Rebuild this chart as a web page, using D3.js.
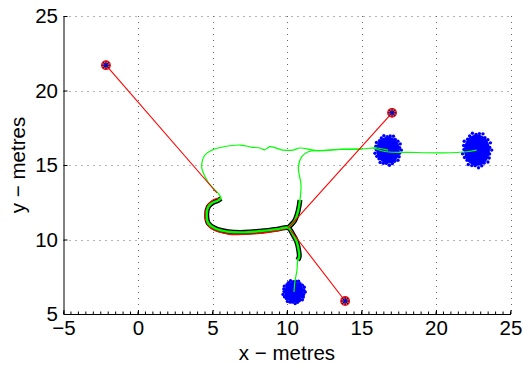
<!DOCTYPE html>
<html><head><meta charset="utf-8">
<script src="https://cdn.jsdelivr.net/npm/d3@7"></script>
<style>body{margin:0;background:#fff}svg{display:block}text{font-family:"Liberation Sans",Arial,sans-serif}</style>
</head><body><svg id="c" width="523" height="365"></svg>
<script>
// ---- data (metres) ----
const xTicks = [-5, 0, 5, 10, 15, 20, 25];
const yTicks = [5, 10, 15, 20, 25];
const xTickLabels = ["\u22125", "0", "5", "10", "15", "20", "25"];
const yTickLabels = ["5", "10", "15", "20", "25"];

// landmarks
const lmX = [-2.15, 17.05, 13.9];
const lmY = [21.7, 18.5, 5.87];
// observation ray end points (on trajectory)
const obsX = [5.30, 10.08, 10.23];
const obsY = [13.12, 10.77, 10.64];

// particle clouds: centre and spread
const cloudX = [16.78, 22.75, 10.47];
const cloudY = [16.0, 16.0, 6.48];
const cloudRx = [0.88, 0.97, 0.74];
const cloudRy = [1.0, 1.17, 0.77];

// main green trajectory
const pathX = [10.47,10.53,10.67,10.72,10.82,10.80,10.65,10.42,10.08,9.41,8.30,7.18,6.06,5.17,4.72,4.61,4.72,5.03,5.37,5.57,
  5.43,5.10,4.70,4.36,4.27,4.49,4.96,5.37,6.85,7.6,8.19,8.5,8.86,9.73,10.40,10.87,12.01,13.76,14.90,16.04,16.78];
const pathY = [6.48,7.15,7.95,8.62,8.84,9.18,9.85,10.30,10.79,10.70,10.57,10.48,10.52,10.75,11.09,11.64,12.20,12.48,12.62,12.75,
  13.05,13.39,13.86,14.53,14.88,15.67,16.0,16.14,16.34,16.2,16.14,16.02,16.23,16.00,16.00,16.14,15.96,16.07,16.07,16.14,16.0];
// second branch from junction going up
const branchX = [10.08,10.54,10.76,10.87,10.94,10.76,10.99,11.43,12.21,13.56,15.0];
const branchY = [10.79,11.31,11.98,12.65,13.66,14.86,15.56,15.89,15.97,16.04,16.07];
// link between the two upper clouds
const linkX = [15.77,16.69,18.25,20.46,22.07,22.73];
const linkY = [16.14,15.89,15.85,15.82,15.89,16.0];
// thick (black) bundle sections
const bundleX = [10.72,10.82,10.80,10.65,10.42,10.08,9.41,8.30,7.18,6.06,5.17,4.72,4.61,4.72,5.03,5.37,5.57];
const bundleY = [8.62,8.84,9.18,9.85,10.30,10.79,10.70,10.57,10.48,10.52,10.75,11.09,11.64,12.20,12.48,12.62,12.75];
const bundle2X = [10.08,10.54,10.76,10.87];
const bundle2Y = [10.79,11.31,11.98,12.65];
// red estimated path
const estX = [5.57,5.03,4.63,4.50,4.70,4.96,6.04,7.18,8.99,10.06];
const estY = [12.79,12.65,12.18,11.44,10.97,10.70,10.37,10.35,10.52,10.77];

// ---- layout ----
const L = 63.5, R = 510.5, T = 16, B = 314;
const x = d3.scaleLinear().domain([-5, 25]).range([L, R]);
const y = d3.scaleLinear().domain([5, 25]).range([B, T]);
const svg = d3.select("#c");
const FS = "20.5px";

// grid
const g = svg.append("g");
g.selectAll(".gx").data(xTicks.slice(1)).join("line")
  .attr("x1", d => Math.round(x(d)) + 0.5).attr("x2", d => Math.round(x(d)) + 0.5)
  .attr("y1", T).attr("y2", B)
  .attr("stroke", "#666").attr("stroke-width", 1).attr("stroke-dasharray", "1,5");
g.selectAll(".gy").data(yTicks.slice(1)).join("line")
  .attr("y1", d => Math.round(y(d)) + 0.5).attr("y2", d => Math.round(y(d)) + 0.5)
  .attr("x1", L).attr("x2", R)
  .attr("stroke", "#666").attr("stroke-width", 1).attr("stroke-dasharray", "1,5");

// clouds
const clouds = d3.range(cloudX.length).map(i => ({cx: cloudX[i], cy: cloudY[i], rx: cloudRx[i], ry: cloudRy[i]}));
const cg = svg.append("g").attr("fill", "#0000ff");
clouds.forEach(c => {
  const rx = x(c.cx + c.rx) - x(c.cx), ry = y(c.cy) - y(c.cy + c.ry);
  cg.append("ellipse").attr("cx", x(c.cx)).attr("cy", y(c.cy)).attr("rx", rx * 0.9).attr("ry", ry * 0.9);
  d3.range(0, 360, 14).forEach((a, k) => {
    const f = k % 3 === 0 ? 1.02 : (k % 3 === 1 ? 0.9 : 0.96);
    const t = a * Math.PI / 180;
    cg.append("circle").attr("cx", x(c.cx) + rx * f * Math.cos(t)).attr("cy", y(c.cy) + ry * f * Math.sin(t)).attr("r", 1.7);
  });
});

const line = d3.line().x(d => x(d[0])).y(d => y(d[1])).curve(d3.curveCatmullRom.alpha(0.5));
const pts = (a, b) => a.map((v, i) => [v, b[i]]);

// thick black bundles
[pts(bundleX, bundleY), pts(bundle2X, bundle2Y)].forEach(p => {
  svg.append("path").attr("d", line(p)).attr("fill", "none").attr("stroke", "#000")
    .attr("stroke-width", 5).attr("stroke-linejoin", "round").attr("stroke-linecap", "butt");
});
// red estimated path
svg.append("path").attr("d", line(pts(estX, estY))).attr("fill", "none").attr("stroke", "#ff0000").attr("stroke-width", 1.3);
// green inside bundles
[pts(bundleX, bundleY), pts(bundle2X, bundle2Y)].forEach(p => {
  svg.append("path").attr("d", line(p)).attr("fill", "none").attr("stroke", "#00ee00")
    .attr("stroke-width", 2.4).attr("stroke-linejoin", "round");
});
// green trajectories
[pts(pathX, pathY), pts(branchX, branchY), pts(linkX, linkY)].forEach(p => {
  svg.append("path").attr("d", line(p)).attr("fill", "none").attr("stroke", "#00ff00").attr("stroke-width", 1.2);
});

// observation rays
svg.selectAll(".ray").data(d3.range(lmX.length)).join("line")
  .attr("x1", i => x(lmX[i])).attr("y1", i => y(lmY[i]))
  .attr("x2", i => x(obsX[i])).attr("y2", i => y(obsY[i]))
  .attr("stroke", "#ff0000").attr("stroke-width", 1.1);

// landmarks
const lg = svg.selectAll(".lm").data(d3.range(lmX.length)).join("g")
  .attr("transform", i => `translate(${x(lmX[i])},${y(lmY[i])})`);
lg.append("circle").attr("r", 4.3).attr("fill", "#ff6666").attr("stroke", "#ff0000").attr("stroke-width", 1.3);
[[0, 1], [1, 0], [0.7071, 0.7071], [0.7071, -0.7071]].forEach(([dx, dy]) => {
  lg.append("line").attr("x1", -dx * 4).attr("y1", -dy * 4).attr("x2", dx * 4).attr("y2", dy * 4)
    .attr("stroke", "#000066").attr("stroke-width", 1.1);
});
lg.append("circle").attr("r", 1.3).attr("fill", "#0000ff");

// axes
const xa = svg.append("g").attr("transform", `translate(0,${B})`)
  .call(d3.axisBottom(x).tickValues(xTicks).tickFormat((d, i) => xTickLabels[i]).tickSize(-4).tickSizeOuter(0).tickPadding(6));
const ya = svg.append("g").attr("transform", `translate(${L},0)`)
  .call(d3.axisLeft(y).tickValues(yTicks).tickFormat((d, i) => yTickLabels[i]).tickSize(-4).tickSizeOuter(0).tickPadding(5.5));
[xa, ya].forEach(a => {
  a.selectAll("text").attr("font-size", FS).attr("fill", "#000").attr("font-family", '"Liberation Sans",Arial,sans-serif');
  a.select(".domain").attr("stroke", "#000");
  a.selectAll(".tick line").attr("stroke", "#000");
});
// minor ticks on x axis
svg.append("g").selectAll("line").data(d3.range(-5, 25.01, 0.5)).join("line")
  .attr("x1", d => x(d)).attr("x2", d => x(d)).attr("y1", B).attr("y2", B - 2.5)
  .attr("stroke", "#000").attr("stroke-width", 1);

// axis titles
svg.append("text").attr("x", (L + R) / 2).attr("y", 360).attr("text-anchor", "middle")
  .attr("font-size", FS).text("x \u2212 metres");
svg.append("text").attr("transform", `translate(25,${(T + B) / 2}) rotate(-90)`).attr("text-anchor", "middle")
  .attr("font-size", FS).text("y \u2212 metres");
</script></body></html>
